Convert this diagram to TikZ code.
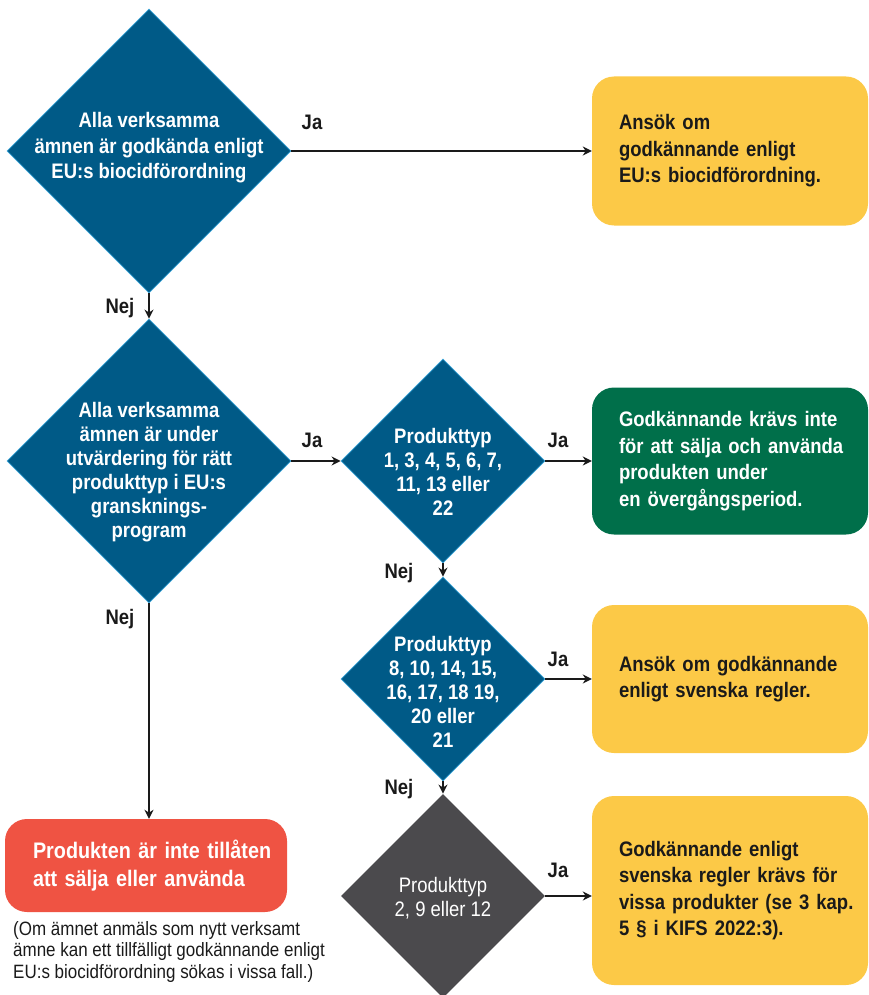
\documentclass[tikz,border=0pt]{standalone}
\usepackage{fontspec}
\setmainfont{Liberation Sans}[FakeStretch=0.88]
\usetikzlibrary{shapes.geometric,arrows.meta}
\definecolor{kemblue}{HTML}{005A87}
\definecolor{kemedge}{HTML}{3FA6D8}
\definecolor{kemgray}{HTML}{4B4A4D}
\definecolor{kemyellow}{HTML}{FCC947}
\definecolor{kemgreen}{HTML}{006F4A}
\definecolor{kemred}{HTML}{EF5343}
\definecolor{kemtext}{HTML}{1A1A1A}
\begin{document}
\begin{tikzpicture}[x=1pt,y=-1pt]
    \tikzset{dia/.style = {shape=diamond, fill=kemblue, draw=kemedge, line width=0.8pt,
                           minimum width=284pt, minimum height=284pt, inner sep=0pt}}
    \tikzset{sdia/.style = {dia, minimum width=204pt, minimum height=204pt}}
    \tikzset{dtext/.style = {text=white, align=center, font=\fontsize{21}{24}\selectfont\bfseries}}
    \tikzset{box/.style = {rounded corners=22pt, minimum width=276pt, text width=222pt, inner xsep=27pt,
                           align=left, text=kemtext, font=\fontsize{21}{26.5}\selectfont\bfseries,
                           execute at begin node={\rightskip=-30pt plus 1fil\hyphenpenalty=10000}}}
    \tikzset{lbl/.style = {anchor=base, text=kemtext, font=\fontsize{21}{25}\selectfont\bfseries}}
    \tikzset{arr/.style = {-{Stealth[length=9pt,width=9pt]}, line width=2pt, draw=kemtext}}
    \useasboundingbox (0,0) rectangle (869,995);
    % questions
    \node[dia] (d1) at (149,151) {};
    \node[dtext, font=\fontsize{21}{25.5}\selectfont\bfseries] (d1t) at ([yshift=3pt]d1.center)
        {Alla verksamma\\ämnen är godkända enligt\\EU:s biocidförordning};
    \node[dia] (d2) at (149,461) {};
    \node[dtext] (d2t) at ([yshift=-11pt]d2.center)
        {Alla verksamma\\ämnen är under\\utvärdering för rätt\\produkttyp i EU:s\\gransknings-\\program};
    \node[sdia] (d3) at (443,461) {};
    \node[dtext] (d3t) at ([yshift=-11pt]d3.center) {Produkttyp\\1, 3, 4, 5, 6, 7,\\11, 13 eller\\22};
    \node[sdia] (d4) at (443,679) {};
    \node[dtext] (d4t) at ([yshift=-13pt]d4.center) {Produkttyp\\8, 10, 14, 15,\\16, 17, 18 19,\\20 eller\\21};
    \node[sdia, fill=kemgray, draw=none] (d5) at (443,896) {};
    \node[dtext, font=\fontsize{21}{24}\selectfont] (d5t) at ([yshift=-2pt]d5.center) {Produkttyp\\2, 9 eller 12};
    % outcomes
    \node[box, fill=kemyellow, minimum height=149pt] (b1) at (730,151)
        {Ansök om\\godkännande enligt\\EU:s biocidförordning.};
    \node[box, fill=kemgreen, text=white, minimum height=147pt] (b2) at (730,461)
        {Godkännande krävs inte\\för att sälja och använda\\produkten under\\en övergångsperiod.};
    \node[box, fill=kemyellow, minimum height=148pt] (b3) at (730,679)
        {Ansök om godkännande\\enligt svenska regler.};
    \node[box, fill=kemyellow, minimum height=189pt] (b4) at (730,890.5)
        {Godkännande enligt\\svenska regler krävs för\\vissa produkter (se 3 kap.\\5 § i KIFS 2022:3).};
    \node[box, fill=kemred, text=white, minimum width=282pt, text width=226pt, inner xsep=28pt,
          minimum height=93pt, font=\fontsize{22.5}{28}\selectfont\bfseries] (red) at (146,865.5)
        {Produkten är inte tillåten\\att sälja eller använda};
    \node[anchor=north west, align=left, text=kemtext, inner sep=0pt,
          font=\fontsize{19.3}{21.5}\selectfont] (note) at (13,921)
        {(Om ämnet anmäls som nytt verksamt\\ämne kan ett tillfälligt godkännande enligt\\EU:s biocidförordning sökas i vissa fall.)};
    % connectors
    \draw[arr] (d1) -- (b1);
    \draw[arr] (d1) -- (d2);
    \draw[arr] (d2) -- (d3);
    \draw[arr] (d3) -- (b2);
    \draw[arr] (d3) -- (d4);
    \draw[arr] (d4) -- (b3);
    \draw[arr] (d4) -- (d5);
    \draw[arr] (d5.east) -- (d5.east -| b4.west);
    \draw[arr] (d2.south) -- (d2.south |- red.north);
    % answers
    \node[lbl] (ja1) at (312,130) {Ja};
    \node[lbl] (nej1) at (120,313) {Nej};
    \node[lbl] (ja2) at (312,447) {Ja};
    \node[lbl] (ja3) at (558,447) {Ja};
    \node[lbl] (nej2) at (399,578) {Nej};
    \node[lbl] (nej3) at (120,624) {Nej};
    \node[lbl] (ja4) at (558,666) {Ja};
    \node[lbl] (nej4) at (399,794) {Nej};
    \node[lbl] (ja5) at (558,877) {Ja};
\end{tikzpicture}
\end{document}
